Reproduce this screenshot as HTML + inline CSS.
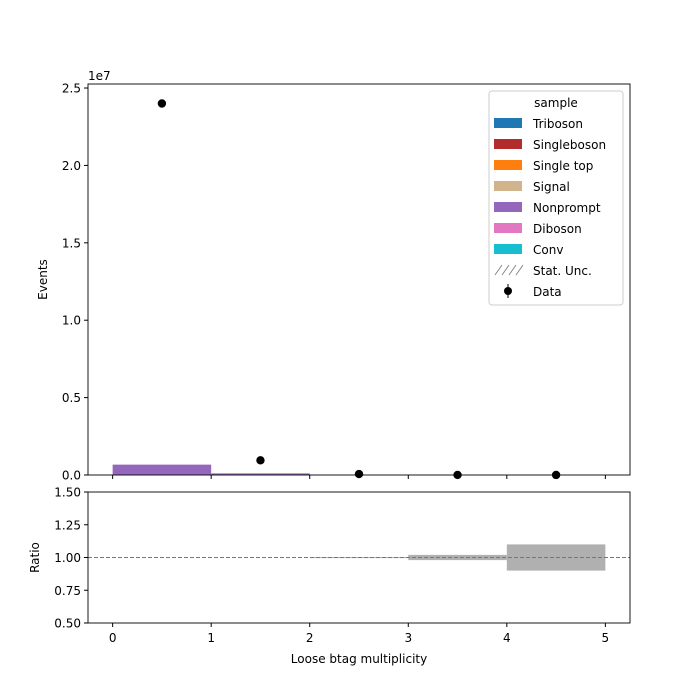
<!DOCTYPE html>
<html><head><meta charset="utf-8"><style>
html,body{margin:0;padding:0;background:#fff;overflow:hidden;width:700px;height:700px;font-family:"Liberation Sans","DejaVu Sans",sans-serif}
svg{display:block}
svg text{font-family:"DejaVu Sans","Liberation Sans",sans-serif;font-size:12px;fill:#000}
</style></head><body>
<svg id="c" width="700" height="700" xmlns="http://www.w3.org/2000/svg"></svg>
<script>
const binEdges=[0,1,2,3,4,5];
const nonprompt=[0.65e6,0.1e6,0.005e6,0.001e6,0.0002e6];
const diboson=[0.02e6,0.005e6,0,0,0];
const dataVals=[2.4e7,0.95e6,0.06e6,0.005e6,0.001e6];
const ratioUnc=[0,0,0.003,0.02,0.1];
const xTicks=[0,1,2,3,4,5];
const yTicks=[0,0.5e7,1.0e7,1.5e7,2.0e7,2.5e7];
const yTickLabels=["0.0","0.5","1.0","1.5","2.0","2.5"];
const rTicks=[0.5,0.75,1.0,1.25,1.5];
const rTickLabels=["0.50","0.75","1.00","1.25","1.50"];
const legendNames=["Triboson","Singleboson","Single top","Signal","Nonprompt","Diboson","Conv"];
const legendColors=["#1f77b4","#b22c2c","#ff7f0e","#d2b48c","#9467bd","#e377c2","#17becf"];

const svg=document.getElementById('c');const NS="http://www.w3.org/2000/svg";
function el(t,a,p){const e=document.createElementNS(NS,t);for(const k in a)e.setAttribute(k,a[k]);(p||svg).appendChild(e);return e;}
const L=88,R=630,T=84,B=475,RT=492,RB=623;
const X=v=>L+(v+0.25)/5.5*(R-L);
const Y=v=>B-v/2.526e7*(B-T);
const RY=v=>RB-(v-0.5)*(RB-RT);
for(let i=0;i<5;i++){
 let y0=Y(diboson[i]);
 const r1=el('rect',{x:X(binEdges[i]),y:Y(diboson[i]),width:X(binEdges[i+1])-X(binEdges[i]),height:B-Y(diboson[i]),fill:"#e377c2"});
 
 const r2=el('rect',{x:X(binEdges[i]),y:Y(diboson[i]+nonprompt[i]),width:X(binEdges[i+1])-X(binEdges[i]),height:y0-Y(diboson[i]+nonprompt[i]),fill:"#9467bd"});
 
 const c=el('circle',{cx:X(i+0.5),cy:Y(dataVals[i]),r:4.2,fill:"#000"});
 
 if(ratioUnc[i]>0){const u=el('rect',{x:X(binEdges[i]),y:RY(1+ratioUnc[i]),width:X(binEdges[i+1])-X(binEdges[i]),height:Math.max(1,RY(1-ratioUnc[i])-RY(1+ratioUnc[i])),fill:"#b0b0b0"});
 }
}
el('line',{x1:L,x2:R,y1:RY(1),y2:RY(1),stroke:"#777","stroke-dasharray":"4,2"});
const f1=el('rect',{x:L,y:T,width:R-L,height:B-T,fill:"none",stroke:"#000","stroke-width":0.9});
const f2=el('rect',{x:L,y:RT,width:R-L,height:RB-RT,fill:"none",stroke:"#000","stroke-width":0.9});
xTicks.forEach(t=>{el('line',{x1:X(t),x2:X(t),y1:B,y2:B+4,stroke:"#000"});el('line',{x1:X(t),x2:X(t),y1:RB,y2:RB+4,stroke:"#000"});
 const tx=el('text',{x:X(t),y:RB+19,"text-anchor":"middle"});tx.textContent=t;});
yTicks.forEach((t,i)=>{el('line',{x1:L-4,x2:L,y1:Y(t),y2:Y(t),stroke:"#000"});
 const tx=el('text',{x:L-7,y:Y(t)+4.5,"text-anchor":"end"});tx.textContent=yTickLabels[i];});
rTicks.forEach((t,i)=>{el('line',{x1:L-4,x2:L,y1:RY(t),y2:RY(t),stroke:"#000"});
 const tx=el('text',{x:L-7,y:RY(t)+4.5,"text-anchor":"end"});tx.textContent=rTickLabels[i];});
let t=el('text',{x:L,y:80});t.textContent="1e7";
t=el('text',{x:47,y:(T+B)/2,"text-anchor":"middle",transform:`rotate(-90 47 ${(T+B)/2})`});t.textContent="Events";
t=el('text',{x:39,y:(RT+RB)/2,"text-anchor":"middle",transform:`rotate(-90 39 ${(RT+RB)/2})`});t.textContent="Ratio";
t=el('text',{x:(L+R)/2,y:663,"text-anchor":"middle"});t.textContent="Loose btag multiplicity";
const lg=el('g',{});
el('rect',{x:489,y:91,width:134,height:214,rx:3,fill:"#fff",stroke:"#ccc"},lg);
t=el('text',{x:556,y:107,"text-anchor":"middle"},lg);t.textContent="sample";
legendNames.forEach((n,i)=>{const y=123+i*21;
 el('rect',{x:494,y:y-5,width:28,height:10,fill:legendColors[i]},lg);
 const tx=el('text',{x:533,y:y+5},lg);tx.textContent=n;});
for(let k=0;k<4;k++)el('line',{x1:495+k*7,y1:275,x2:502+k*7,y2:265,stroke:"#888"},lg);
t=el('text',{x:533,y:275},lg);t.textContent="Stat. Unc.";
el('line',{x1:508,x2:508,y1:284,y2:298,stroke:"#000"},lg);el('circle',{cx:508,cy:291,r:4,fill:"#000"},lg);
t=el('text',{x:533,y:296},lg);t.textContent="Data";
</script></body></html>
